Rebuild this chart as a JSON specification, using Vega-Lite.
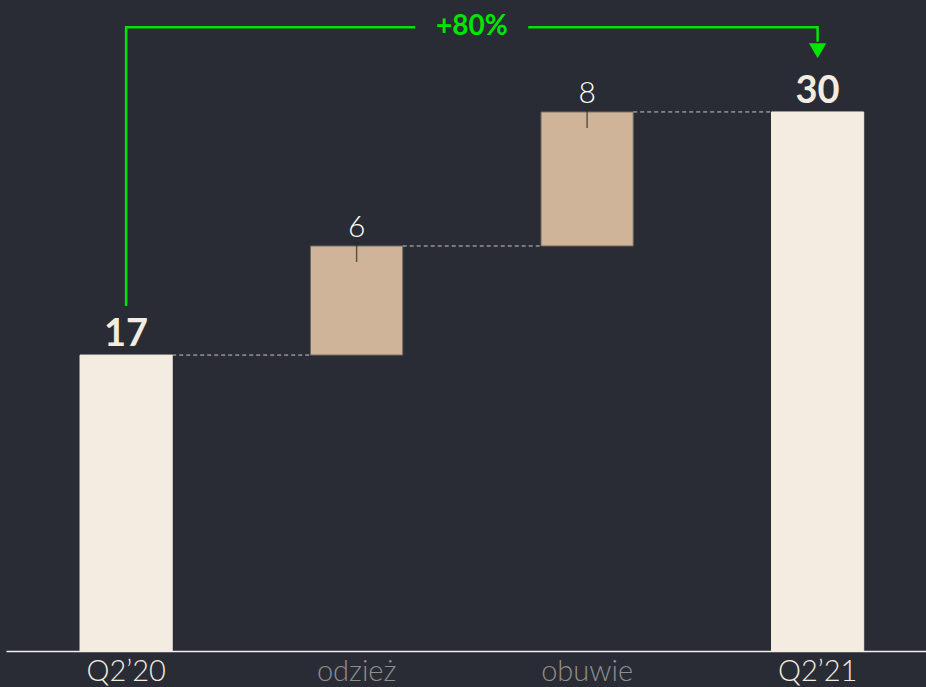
{
  "$schema": "https://vega.github.io/schema/vega-lite/v6.json",
  "width": 920,
  "height": 651,
  "autosize": {"type": "none"},
  "padding": {"left": 6, "top": 0, "right": 0, "bottom": 36},
  "background": "#292c34",
  "config": {"view": {"stroke": null}, "font": "Lato"},
  "datasets": {
    "bars": [
      {"cat": "Q2’20", "start": 0, "end": 16.47, "label": "17", "kind": "total"},
      {"cat": "odzież", "start": 16.47, "end": 22.54, "label": "6", "kind": "delta"},
      {"cat": "obuwie", "start": 22.54, "end": 30.0, "label": "8", "kind": "delta"},
      {"cat": "Q2’21", "start": 0, "end": 30.0, "label": "30", "kind": "total"}
    ],
    "connectors": [
      {"from": "Q2’20", "to": "odzież", "y": 16.47},
      {"from": "odzież", "to": "obuwie", "y": 22.54},
      {"from": "obuwie", "to": "Q2’21", "y": 30.0}
    ],
    "arrow": [
      {"cat": "Q2’20", "y": 19.2, "o": 0},
      {"cat": "Q2’20", "y": 34.72, "o": 1},
      {"cat": "Q2’21", "y": 34.72, "o": 2},
      {"cat": "Q2’21", "y": 33.9, "o": 3}
    ],
    "arrowhead": [{"cat": "Q2’21", "y": 33.4}],
    "growth": [{"cat": "obuwie", "y": 34.72, "t": "+80%"}]
  },
  "layer": [
    {
      "data": {"name": "bars"},
      "mark": {"type": "bar", "strokeWidth": 1},
      "encoding": {
        "x": {
          "field": "cat", "type": "nominal", "sort": null,
          "scale": {"domain": ["Q2’20", "odzież", "obuwie", "Q2’21"], "paddingInner": 0.6, "paddingOuter": 0.2957, "align": 0.543},
          "axis": {
            "title": null, "orient": "bottom", "labelAngle": 0, "ticks": false,
            "domainColor": "#f0f0f0", "domainWidth": 1.5,
            "labelFont": "Lato", "labelFontWeight": 300, "labelFontSize": 29, "labelPadding": 6,
            "labelColor": {"condition": {"test": "datum.value == 'odzież' || datum.value == 'obuwie'", "value": "#8e8e8e"}, "value": "#f3ebe0"}
          }
        },
        "y": {"field": "start", "type": "quantitative", "scale": {"domain": [0, 36.23], "nice": false, "zero": true}, "axis": null},
        "y2": {"field": "end"},
        "color": {"field": "kind", "type": "nominal", "scale": {"domain": ["total", "delta"], "range": ["#f4ece0", "#cfb49a"]}, "legend": null},
        "stroke": {"field": "kind", "type": "nominal", "scale": {"domain": ["total", "delta"], "range": ["#f4ece0", "#6e6863"]}, "legend": null}
      }
    },
    {
      "data": {"name": "connectors"},
      "mark": {"type": "rule", "color": "#c8c8c8", "strokeDash": [4, 3], "strokeWidth": 1},
      "encoding": {
        "x": {"field": "from", "type": "nominal", "bandPosition": 1},
        "x2": {"field": "to", "bandPosition": 0},
        "y": {"field": "y", "type": "quantitative"}
      }
    },
    {
      "data": {"name": "bars"},
      "transform": [{"filter": "datum.kind == 'delta'"}],
      "mark": {"type": "tick", "orient": "vertical", "size": 21, "thickness": 1.5, "color": "#2b2b2b", "yOffset": 5.5},
      "encoding": {
        "x": {"field": "cat", "type": "nominal"},
        "y": {"field": "end", "type": "quantitative"}
      }
    },
    {
      "data": {"name": "bars"},
      "transform": [{"filter": "datum.kind == 'total'"}],
      "mark": {"type": "text", "baseline": "alphabetic", "dy": -9, "fontSize": 38, "fontWeight": "bold", "letterSpacing": 1.5, "color": "#f4ece0"},
      "encoding": {
        "x": {"field": "cat", "type": "nominal"},
        "y": {"field": "end", "type": "quantitative"},
        "text": {"field": "label"}
      }
    },
    {
      "data": {"name": "bars"},
      "transform": [{"filter": "datum.kind == 'delta'"}],
      "mark": {"type": "text", "baseline": "alphabetic", "dy": -9, "fontSize": 30, "fontWeight": 300, "color": "#ffffff"},
      "encoding": {
        "x": {"field": "cat", "type": "nominal"},
        "y": {"field": "end", "type": "quantitative"},
        "text": {"field": "label"}
      }
    },
    {
      "data": {"name": "arrow"},
      "mark": {"type": "line", "color": "#00e600", "strokeWidth": 2.5, "strokeDash": [568, 113, 3000], "strokeCap": "butt"},
      "encoding": {
        "x": {"field": "cat", "type": "nominal"},
        "y": {"field": "y", "type": "quantitative"},
        "order": {"field": "o", "type": "quantitative"}
      }
    },
    {
      "data": {"name": "arrowhead"},
      "mark": {"type": "point", "shape": "triangle-down", "filled": true, "size": 300, "color": "#00e600", "opacity": 1},
      "encoding": {
        "x": {"field": "cat", "type": "nominal"},
        "y": {"field": "y", "type": "quantitative"}
      }
    },
    {
      "data": {"name": "growth"},
      "mark": {"type": "text", "baseline": "middle", "dx": -115.25, "fontSize": 28, "fontWeight": "bold", "letterSpacing": 1.5, "color": "#00e600"},
      "encoding": {
        "x": {"field": "cat", "type": "nominal"},
        "y": {"field": "y", "type": "quantitative"},
        "text": {"field": "t"}
      }
    }
  ]
}
